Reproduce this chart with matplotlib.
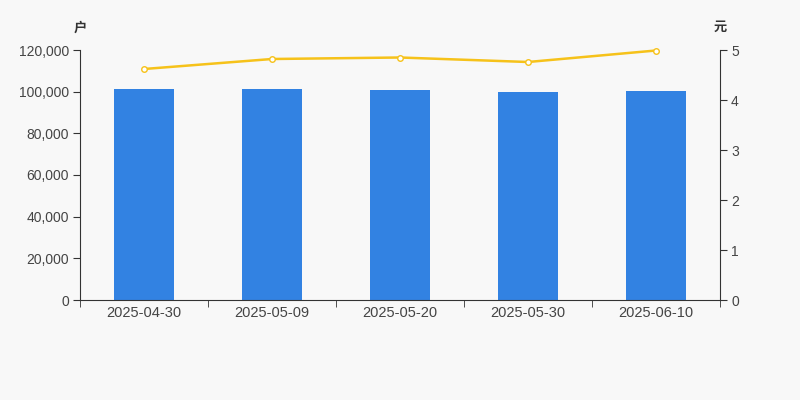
import matplotlib
matplotlib.use("Agg")
import matplotlib.pyplot as plt
import numpy as np

dates = ["2025-04-30", "2025-05-09", "2025-05-20", "2025-05-30", "2025-06-10"]
holders = [101300, 101100, 100800, 99850, 100300]
price = [4.62, 4.82, 4.85, 4.76, 4.99]

plt.rcParams['font.family'] = ['Liberation Sans', 'Noto Sans CJK SC', 'DejaVu Sans']

bg = "#f8f8f8"
fig = plt.figure(figsize=(8, 4), dpi=100, facecolor=bg)
ax = fig.add_axes([0.1, 0.25, 0.8, 0.625], facecolor=bg)
x = np.arange(len(dates))
ax.bar(x, holders, width=0.47, color="#3282e2", zorder=2)
ax.set_xlim(-0.5, len(dates) - 0.5)
ax.set_ylim(0, 120000)
ax.set_yticks(np.arange(0, 120001, 20000))
ax.set_yticklabels([f"{v:,}" for v in range(0, 120001, 20000)])
ax.set_xticks(x)
ax.set_xticklabels(dates)
ax.set_xticks(np.arange(-0.5, len(dates)), minor=True)
ax.tick_params(axis='x', which='major', length=0, pad=4, labelsize=10.5, labelcolor="#444")
ax.tick_params(axis='x', which='minor', length=5, color="#333")
ax.tick_params(axis='y', length=5, color="#333", labelsize=10, labelcolor="#444", pad=3)
for s in ['top', 'right']:
    ax.spines[s].set_visible(False)
for s in ['left', 'bottom']:
    ax.spines[s].set_color("#333")

ax2 = ax.twinx()
ax2.plot(x, price, color="#f6c21a", lw=1.8, marker='o', markersize=4,
         markerfacecolor="white", markeredgecolor="#f6c21a", markeredgewidth=1,
         zorder=3, clip_on=False)
ax2.set_ylim(0, 5)
ax2.set_yticks(range(0, 6))
ax2.tick_params(axis='y', length=5, color="#333", labelsize=10, labelcolor="#444", pad=3)
for s in ['top', 'left', 'bottom']:
    ax2.spines[s].set_visible(False)
ax2.spines['right'].set_color("#333")

fig.text(80 / 800, 1 - 28 / 400, "户", ha='center', va='center', fontsize=9.5,
         color="#333", fontweight='bold')
fig.text(720 / 800, 1 - 28 / 400, "元", ha='center', va='center', fontsize=9.5,
         color="#333", fontweight='bold')

fig.savefig("out.png", dpi=100, facecolor=bg)
